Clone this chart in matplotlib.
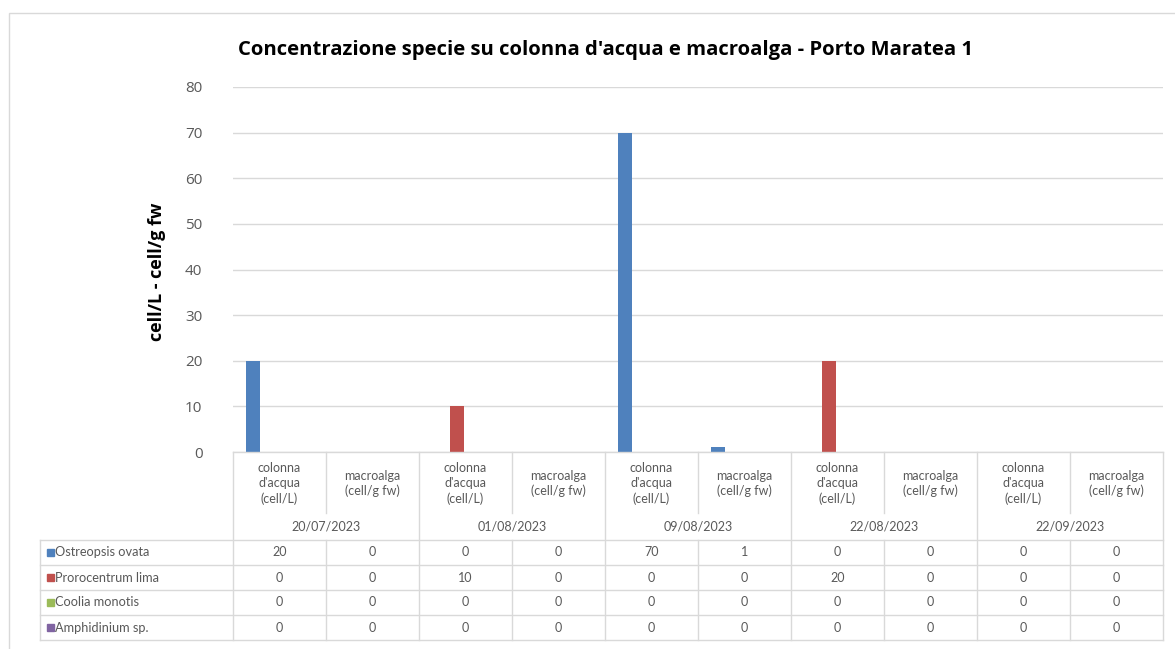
import numpy as np
import matplotlib
matplotlib.use("Agg")
import matplotlib.pyplot as plt
from matplotlib.patches import Rectangle

plt.rcParams['font.family'] = ['Lato', 'DejaVu Sans']

# data
dates = ['20/07/2023', '01/08/2023', '09/08/2023', '22/08/2023', '22/09/2023']
sample_types = ["colonna\nd'acqua\n(cell/L)", "macroalga\n(cell/g fw)"]
species = ['Ostreopsis ovata', 'Prorocentrum lima', 'Coolia monotis', 'Amphidinium sp.']
ostreopsis = [20, 0, 0, 0, 70, 1, 0, 0, 0, 0]
prorocentrum = [0, 0, 10, 0, 0, 0, 20, 0, 0, 0]
coolia = [0, 0, 0, 0, 0, 0, 0, 0, 0, 0]
amphidinium = [0, 0, 0, 0, 0, 0, 0, 0, 0, 0]
values = [ostreopsis, prorocentrum, coolia, amphidinium]
colors = ['#4F81BD', '#C0504D', '#9BBB59', '#8064A2']

W, H = 1175, 649
fig = plt.figure(figsize=(W / 100, H / 100), dpi=100)

def fx(px):
    return px / W

def fy(py):
    return 1 - py / H

# outer chart border
fig.patches.append(Rectangle((fx(9), fy(700)), fx(1300), fy(13) - fy(700),
                             transform=fig.transFigure, fill=False,
                             edgecolor='#D9D9D9', lw=1))

# plot area
x0, x1, ytop, ybot = 233, 1163, 87, 452
ax = fig.add_axes([fx(x0), fy(ybot), fx(x1) - fx(x0), fy(ytop) - fy(ybot)])
n = len(ostreopsis)
x = np.arange(n)
step, bw = 0.19, 0.15
for i, (vals, c) in enumerate(zip(values, colors)):
    ax.bar(x + (i - 1.5) * step, vals, width=bw, color=c, zorder=3)

ax.set_xlim(-0.5, n - 0.5)
ax.set_ylim(0, 80)
ax.set_yticks(range(0, 81, 10))
ax.yaxis.grid(True, color='#D9D9D9', lw=1)
ax.set_axisbelow(True)
for s in ax.spines.values():
    s.set_visible(False)
ax.set_xticks([])
ax.tick_params(axis='y', length=0, pad=22, labelsize=11, labelcolor='#595959')
for lb in ax.get_yticklabels():
    lb.set_fontfamily('Open Sans')

fig.text(fx(157), fy(272), 'cell/L - cell/g fw', rotation=90, ha='center', va='center',
         fontsize=13, fontweight='bold', color='black', family='Open Sans')
fig.text(fx(606), fy(50), "Concentrazione specie su colonna d'acqua e macroalga - Porto Maratea 1",
         ha='center', va='center', fontsize=14.6, fontweight='bold', color='black',
         family='Open Sans')

# data table under the plot
line_c = '#D9D9D9'
txt_c = '#595959'
col_px = [x0 + (x1 - x0) / n * k for k in range(n + 1)]
row_head_bot = 513
row_date_bot = 540
row_h = 25
rows_top = row_date_bot
table_bot = rows_top + row_h * len(species)
legend_left = 40

def hline(y, xa, xb):
    fig.add_artist(plt.Line2D([fx(xa), fx(xb)], [fy(y), fy(y)], color=line_c, lw=1))

def vline(xp, ya, yb):
    fig.add_artist(plt.Line2D([fx(xp), fx(xp)], [fy(ya), fy(yb)], color=line_c, lw=1))

hline(ybot, x0, x1)
for k in range(len(species) + 1):
    hline(rows_top + k * row_h, legend_left, x1)
vline(legend_left, rows_top, table_bot)
for k, xp in enumerate(col_px):
    if k % 2 == 0:
        vline(xp, ybot, table_bot)
    else:
        vline(xp, ybot, row_head_bot)
        vline(xp, rows_top, table_bot)

for k in range(n):
    cx = (col_px[k] + col_px[k + 1]) / 2
    fig.text(fx(cx), fy((ybot + row_head_bot) / 2 + 1), sample_types[k % 2],
             ha='center', va='center', fontsize=9, color=txt_c, linespacing=1.3)
for g, d in enumerate(dates):
    fig.text(fx(col_px[2 * g + 1]), fy((row_head_bot + row_date_bot) / 2), d,
             ha='center', va='center', fontsize=9, color=txt_c)

for r, (name, vals, c) in enumerate(zip(species, values, colors)):
    cy = rows_top + r * row_h + row_h / 2
    fig.patches.append(Rectangle((fx(47), fy(cy + 3.5)), fx(7), fy(cy - 3.5) - fy(cy + 3.5),
                                 transform=fig.transFigure, color=c))
    fig.text(fx(55), fy(cy), name, ha='left', va='center', fontsize=9.2, color=txt_c)
    for k, v in enumerate(vals):
        cx = (col_px[k] + col_px[k + 1]) / 2
        fig.text(fx(cx), fy(cy), str(v), ha='center', va='center', fontsize=9, color=txt_c)

fig.savefig('out.png', dpi=100, facecolor='white')
